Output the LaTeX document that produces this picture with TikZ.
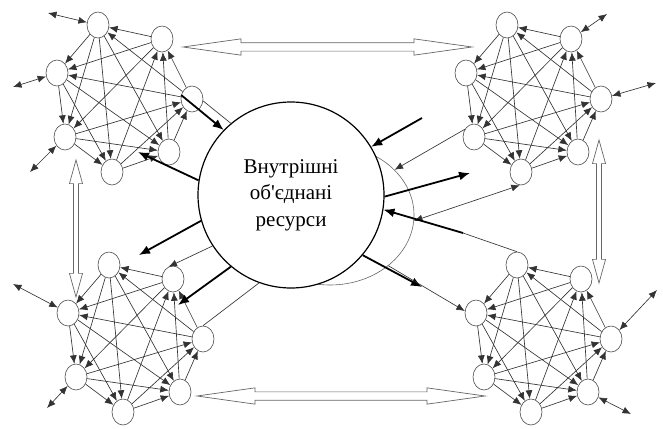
\documentclass[tikz,border=0pt]{standalone}
\usepackage{fontspec}
\setmainfont{Liberation Serif}
\usetikzlibrary{arrows.meta, shapes.geometric, shapes.arrows}

\tikzset{
    unit/.style={ellipse, draw=black!70, fill=white, line width=0.6pt, minimum width=22pt, minimum height=26pt, inner sep=0pt},
    link/.style={->, draw=black!80, line width=0.65pt},
    bilink/.style={<->, draw=black!80, line width=0.65pt},
    flow/.style={->, line width=1.8pt, >={Latex[length=11pt,width=9pt]}},
    hollow/.style={double arrow, draw=black!60, line width=0.7pt, inner xsep=0pt, inner ysep=3.8pt, text height=0pt, text depth=0pt, minimum width=16pt, double arrow head extend=4pt, double arrow tip angle=16},
    hollowv/.style={hollow, inner ysep=2.2pt, minimum width=12.4pt, double arrow tip angle=31, rotate=90}
}

\begin{document}
\begin{tikzpicture}[x=1pt, y=-1pt, >={Latex[length=8.5pt,width=7pt]}]
\useasboundingbox (0,0) rectangle (663,428);

% four groups of units
\foreach \cl/\dx/\dy in {tl/0/0, tr/409/0, bl/11/240, br/419/240}{
  \begin{scope}[shift={(\dx,\dy)}]
    \node (\cl-a) [unit] at (98,25) {};
    \node (\cl-b) [unit] at (162,39) {};
    \node (\cl-c) [unit] at (57,73) {};
    \node (\cl-d) [unit] at (192,99) {};
    \node (\cl-e) [unit] at (65,137) {};
    \node (\cl-f) [unit] at (169,152) {};
    \node (\cl-g) [unit] at (112,172) {};
    \draw[link] (\cl-b) -- (\cl-a);
    \draw[link] (\cl-a) -- (\cl-c);
    \draw[link] (\cl-d) -- (\cl-a);
    \draw[link] (\cl-a) -- (\cl-e);
    \draw[link] (\cl-a) -- (\cl-f);
    \draw[link] (\cl-a) -- (\cl-g);
    \draw[link] (\cl-b) -- (\cl-c);
    \draw[link] (\cl-d) -- (\cl-b);
    \draw[link] (\cl-b) -- (\cl-e);
    \draw[link] (\cl-f) -- (\cl-b);
    \draw[link] (\cl-g) -- (\cl-b);
    \draw[link] (\cl-d) -- (\cl-c);
    \draw[link] (\cl-c) -- (\cl-e);
    \draw[link] (\cl-c) -- (\cl-f);
    \draw[link] (\cl-c) -- (\cl-g);
    \draw[link] (\cl-e) -- (\cl-d);
    \draw[link] (\cl-f) -- (\cl-d);
    \draw[link] (\cl-g) -- (\cl-d);
    \draw[link] (\cl-e) -- (\cl-f);
    \draw[link] (\cl-e) -- (\cl-g);
    \draw[link] (\cl-g) -- (\cl-f);
  \end{scope}
}

% outer links
\coordinate (tl-xa) at (48,13);
\coordinate (tl-xc) at (13,87);
\coordinate (tl-xe) at (30,172);
\coordinate (tr-xb) at (607,14);
\coordinate (tr-xd) at (656,83);
\coordinate (bl-xc) at (13,284);
\coordinate (bl-xe) at (47,408);
\coordinate (br-xd) at (657,290);
\coordinate (br-xf) at (631,414);
\draw[bilink] (tl-a) -- (tl-xa);
\draw[bilink] (tl-c) -- (tl-xc);
\draw[bilink] (tl-e) -- (tl-xe);
\draw[bilink] (tr-b) -- (tr-xb);
\draw[bilink] (tr-d) -- (tr-xd);
\draw[bilink] (bl-c) -- (bl-xc);
\draw[bilink] (bl-e) -- (bl-xe);
\draw[bilink] (br-d) -- (br-xd);
\draw[bilink] (br-f) -- (br-xf);

% hollow arrows between groups
\node (top-link) [hollow, minimum height=289pt] at (327.5,47) {};
\node (bottom-link) [hollow, minimum height=288pt] at (341,396) {};
\node (left-link) [hollowv, minimum height=137pt] at (76,228.5) {};
\node (right-link) [hollowv, minimum height=143pt] at (599,211.5) {};

% shared resources
\node (halo) [ellipse, draw=black!60, line width=0.6pt, minimum width=168pt, minimum height=140pt] at (330,215) {};
\node (res) [circle, draw, line width=1.2pt, fill=white, minimum size=186pt, align=center, font=\fontsize{21}{26.5}\selectfont] at (291,195) {Внутрішні\\об\textquotesingle єднані\\ресурси};

\coordinate (tl-in) at (138,152);
\coordinate (tr-src) at (422,118);
\coordinate (tr-in) at (470,173);
\coordinate (br-src) at (463,233);
\coordinate (br-in) at (422,287);
\coordinate (bl-in1) at (139,255);
\coordinate (bl-in2) at (178,305);

\draw[flow] (tl-d.160) -- (res.136);
\draw[link, -] (tl-d.-10) -- (res.130);
\draw[flow] (res.171) -- (tl-in);
\draw[flow] (tr-src) -- (res.31);
\draw[link] (tr-e.140) -- (halo.35);
\draw[flow] (res.-1) -- (tr-in);
\draw[bilink] (halo.-4) -- (tr-g.-95);
\draw[link, -] (br-a.north) -- (br-src);
\draw[flow] (br-src) -- (res.-9);
\draw[flow] (res.-40) -- (br-in);
\draw[link] (halo.-41) -- (br-c.170);
\draw[flow] (res.196) -- (bl-in1);
\draw[link] (res.213) -- (bl-b.110);
\draw[flow] (res.230) -- (bl-in2);
\draw[link, -] (res.250) -- (bl-d.north);
\end{tikzpicture}
\end{document}
